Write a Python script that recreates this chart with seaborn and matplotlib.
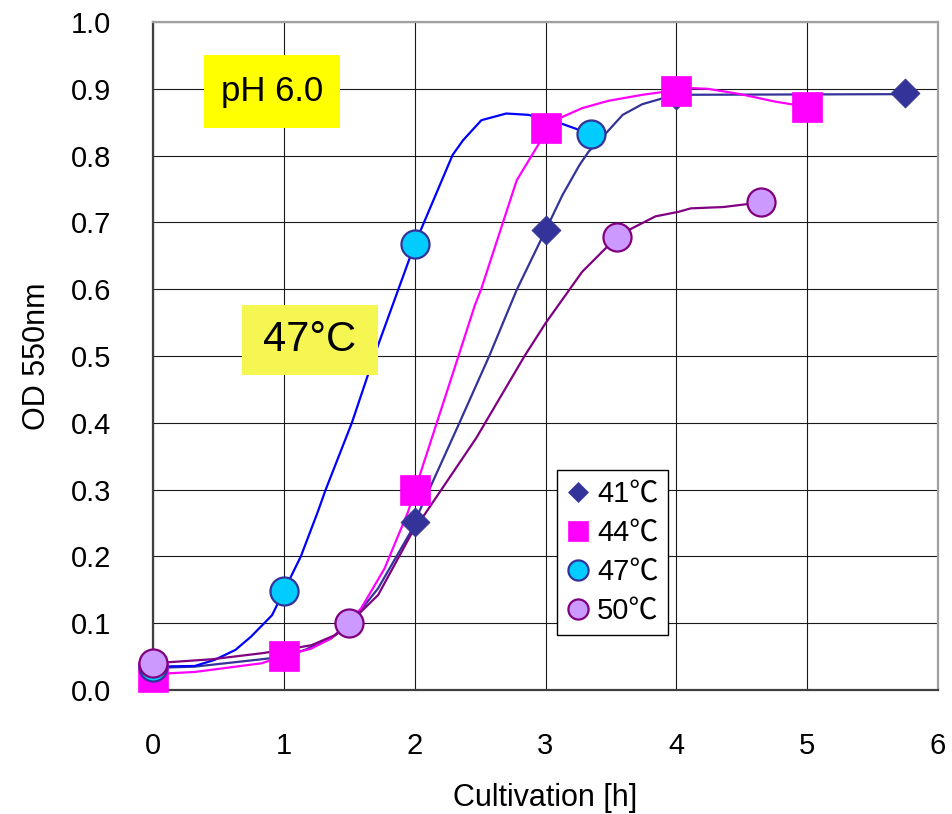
import numpy as np
import pandas as pd
import seaborn as sns
import matplotlib.pyplot as plt
from matplotlib.lines import Line2D
from matplotlib.patches import Rectangle

# ---------------- data ----------------
series_names = ["41℃", "44℃", "47℃", "50℃"]

# measured points (markers)
m41_x = [0, 2, 3, 4, 5.75]
m41_y = [0.033, 0.252, 0.688, 0.890, 0.893]
m44_x = [0, 1, 2, 3, 4, 5]
m44_y = [0.020, 0.051, 0.300, 0.842, 0.897, 0.873]
m47_x = [0, 1, 2, 3.35]
m47_y = [0.035, 0.148, 0.667, 0.832]
m50_x = [0, 1.5, 3.55, 4.65]
m50_y = [0.040, 0.100, 0.678, 0.730]

# drawn curves
c41_x = [0, 0.32, 0.83, 1.0, 1.16, 1.36, 1.5, 1.72, 1.97, 2.0, 2.34, 2.57, 2.78, 3.0,
         3.13, 3.26, 3.33, 3.46, 3.59, 3.74, 3.9, 4.0, 5.75]
c41_y = [0.033, 0.035, 0.046, 0.050, 0.060, 0.077, 0.098, 0.152, 0.237, 0.252, 0.399,
         0.500, 0.599, 0.688, 0.741, 0.786, 0.806, 0.833, 0.861, 0.877, 0.886, 0.891, 0.892]
c44_x = [0, 0.12, 0.32, 0.83, 1.0, 1.21, 1.36, 1.46, 1.59, 1.77, 1.95, 2.0, 2.33, 2.46,
         2.51, 2.78, 2.95, 3.0, 3.13, 3.28, 3.48, 3.74, 4.0, 4.11, 4.24, 4.49, 4.75, 5.0]
c44_y = [0.020, 0.025, 0.027, 0.040, 0.051, 0.062, 0.077, 0.095, 0.122, 0.182, 0.267,
         0.298, 0.497, 0.576, 0.601, 0.763, 0.818, 0.842, 0.858, 0.871, 0.882, 0.891,
         0.898, 0.901, 0.900, 0.892, 0.881, 0.873]
c47_x = [0, 0.32, 0.47, 0.63, 0.75, 0.91, 1.0, 1.13, 1.26, 1.32, 1.52, 1.64, 1.72, 2.0,
         2.29, 2.37, 2.51, 2.70, 2.87, 3.12, 3.35]
c47_y = [0.035, 0.036, 0.045, 0.060, 0.080, 0.112, 0.148, 0.200, 0.267, 0.300, 0.400,
         0.470, 0.516, 0.667, 0.801, 0.823, 0.853, 0.863, 0.861, 0.848, 0.832]
c50_x = [0, 0.45, 0.83, 1.0, 1.21, 1.39, 1.5, 1.72, 1.97, 2.47, 2.84, 3.0, 3.28, 3.55,
         3.66, 3.84, 4.02, 4.11, 4.36, 4.65]
c50_y = [0.040, 0.046, 0.055, 0.060, 0.067, 0.082, 0.100, 0.142, 0.232, 0.377, 0.500,
         0.549, 0.626, 0.679, 0.691, 0.709, 0.716, 0.721, 0.723, 0.730]

x_ticks = [0, 1, 2, 3, 4, 5, 6]
x_ticklabels = ["0", "1", "2", "3", "4", "5", "6"]
y_ticks = [0.0, 0.1, 0.2, 0.3, 0.4, 0.5, 0.6, 0.7, 0.8, 0.9, 1.0]
y_ticklabels = ["0.0", "0.1", "0.2", "0.3", "0.4", "0.5", "0.6", "0.7", "0.8", "0.9", "1.0"]

# ---------------- styling ----------------
line_colors = {"41℃": "#333399", "44℃": "#FF00FF", "47℃": "#0000FF", "50℃": "#800080"}
fill_colors = {"41℃": "#333399", "44℃": "#FF00FF", "47℃": "#00CCFF", "50℃": "#CC99FF"}
edge_colors = {"41℃": "#333399", "44℃": "#FF00FF", "47℃": "#333399", "50℃": "#800080"}
markers = {"41℃": "D", "44℃": "s", "47℃": "o", "50℃": "o"}
msizes = {"41℃": 14.8, "44℃": 20.9, "47℃": 20.2, "50℃": 20.2}
medge = {"41℃": 0.5, "44℃": 0.5, "47℃": 1.6, "50℃": 1.6}

sns.set_theme(style="white")
plt.rcParams["font.family"] = ["Liberation Sans", "DejaVu Sans"]
plt.rcParams["text.color"] = "black"
plt.rcParams["axes.labelcolor"] = "black"

fig = plt.figure(figsize=(9.52, 8.14), dpi=100)
ax = fig.add_axes([153 / 952, 1 - 690 / 814, 785 / 952, 668 / 814])

curves = [(c41_x, c41_y), (c44_x, c44_y), (c47_x, c47_y), (c50_x, c50_y)]
frames = []
for name, (cx, cy) in zip(series_names, curves):
    frames.append(pd.DataFrame({"x": cx, "y": cy, "series": name}))
curve_df = pd.concat(frames, ignore_index=True)

sns.lineplot(data=curve_df, x="x", y="y", hue="series", palette=line_colors,
             sort=False, estimator=None, linewidth=1.6, legend=False, ax=ax, zorder=3)

points = [(m41_x, m41_y), (m44_x, m44_y), (m47_x, m47_y), (m50_x, m50_y)]
for i, (name, (px, py)) in enumerate(zip(series_names, points)):
    sns.scatterplot(x=px, y=py, marker=markers[name], s=msizes[name] ** 2,
                    color=fill_colors[name], edgecolor=edge_colors[name],
                    linewidth=medge[name], ax=ax, zorder=5 + i, clip_on=False, legend=False)

ax.set_xlim(0, 6)
ax.set_ylim(0, 1.0)
ax.set_xticks(x_ticks)
ax.set_xticklabels(x_ticklabels)
ax.set_yticks(y_ticks)
ax.set_yticklabels(y_ticklabels)
ax.grid(True, color="#1a1a1a", linewidth=0.8, zorder=0)
ax.set_axisbelow(True)

ax.tick_params(axis="both", direction="in", length=7, width=1.2, color="#404040",
               labelsize=21, pad=30, labelcolor="black")
for s in ["left", "bottom"]:
    ax.spines[s].set_color("#404040")
    ax.spines[s].set_linewidth(1.6)
for s in ["top", "right"]:
    ax.spines[s].set_color("#A0A0A0")
    ax.spines[s].set_linewidth(1.6)

ax.set_xlabel("Cultivation [h]", fontsize=22, labelpad=17, color="black")
ax.set_ylabel("OD 550nm", fontsize=22, labelpad=14, color="black")

# annotation boxes
ax.add_patch(Rectangle((0.39, 0.841), 1.04, 0.110, transform=ax.transData,
                       facecolor="#FFFF00", edgecolor="none", zorder=4))
ax.text(0.909, 0.896, "pH 6.0", fontsize=25, ha="center", va="center", zorder=4.5,
        color="black")
ax.add_patch(Rectangle((0.68, 0.471), 1.04, 0.106, transform=ax.transData,
                       facecolor="#F6F652", edgecolor="none", zorder=4))
ax.text(1.199, 0.524, "47°C", fontsize=30, ha="center", va="center", zorder=4.5,
        color="black")

# legend
handles = []
leg_ms = {"41℃": 10.3, "44℃": 14.5, "47℃": 14.5, "50℃": 14.5}
for name in series_names:
    handles.append(Line2D([], [], linestyle="none", marker=markers[name],
                          markersize=leg_ms[name], markerfacecolor=fill_colors[name],
                          markeredgecolor=edge_colors[name],
                          markeredgewidth=1.6 if markers[name] == "o" else 0.5,
                          label=name))
leg = ax.legend(handles=handles, loc="upper left", bbox_to_anchor=(0.5146, 0.329),
                borderaxespad=0, frameon=True, fancybox=False, framealpha=1,
                edgecolor="black", handlelength=0.8, handletextpad=0.25,
                labelspacing=0.38, borderpad=0.33,
                prop={"family": ["Liberation Sans", "Noto Sans CJK JP", "DejaVu Sans"],
                      "size": 21})
leg.get_frame().set_linewidth(1.0)
leg.set_zorder(20)
for t in leg.get_texts():
    t.set_color("black")

fig.savefig("out.png", dpi=100)
